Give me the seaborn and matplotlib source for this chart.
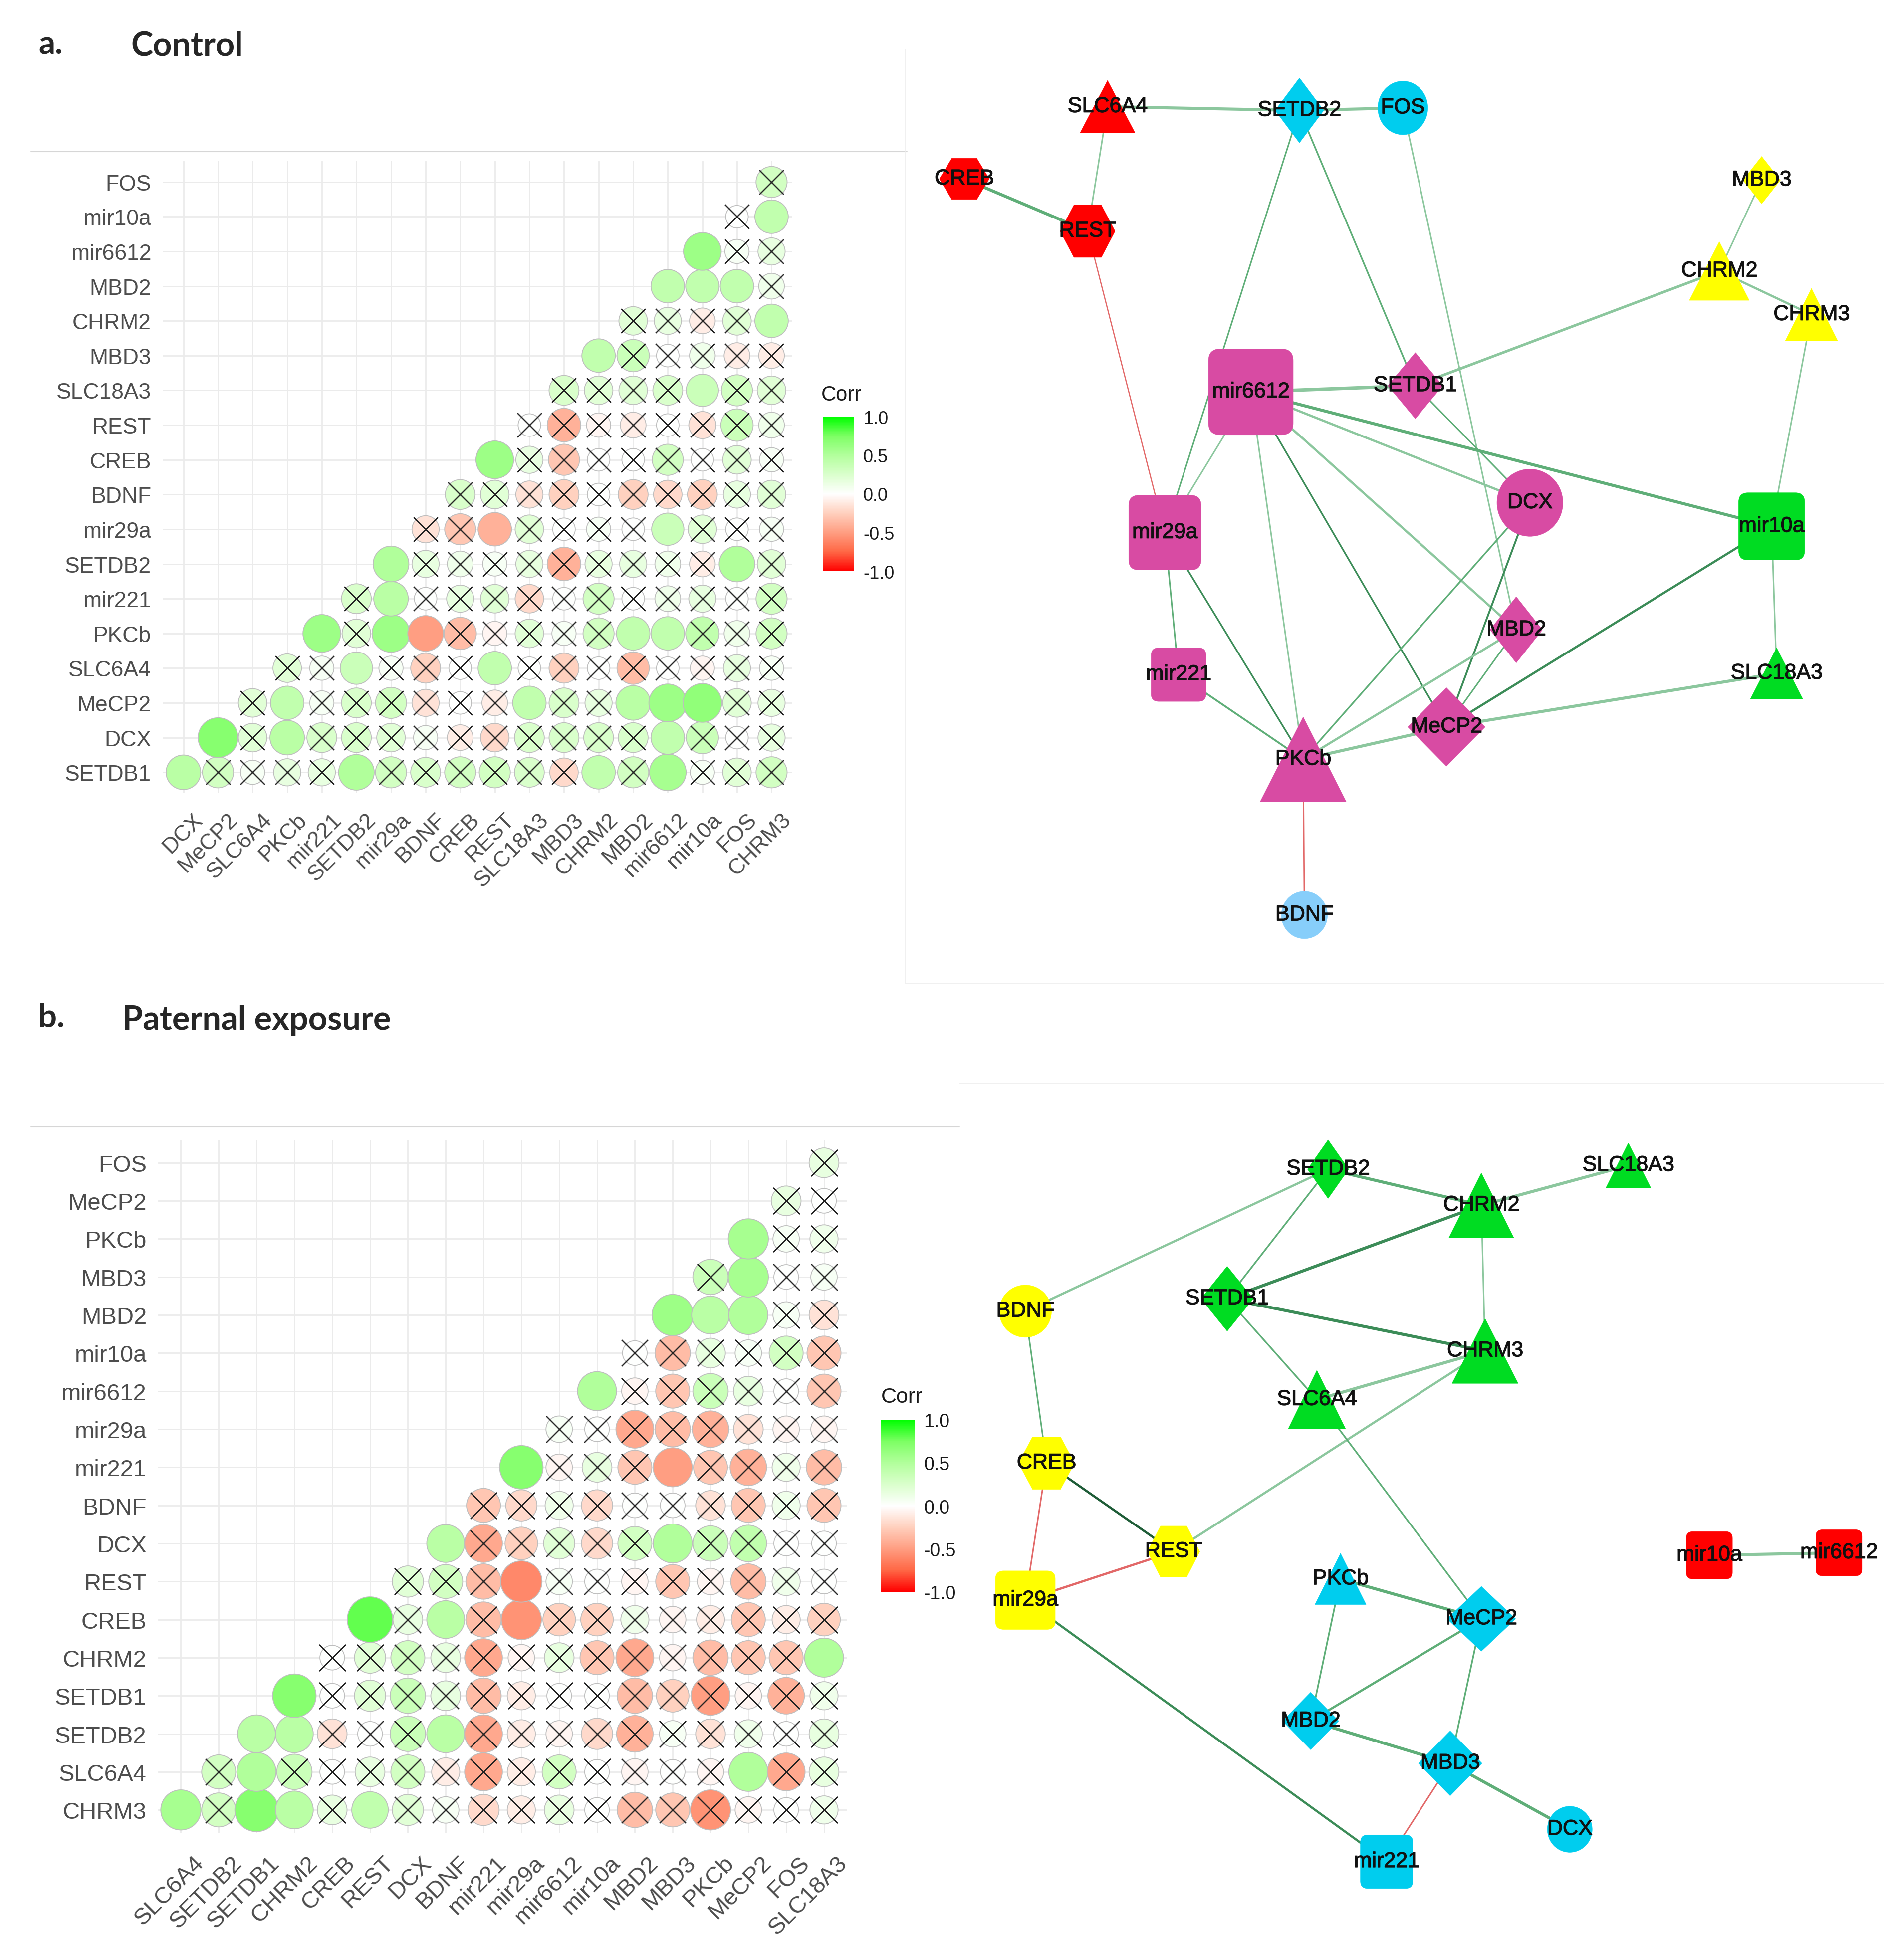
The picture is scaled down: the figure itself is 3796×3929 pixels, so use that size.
import numpy as np
import pandas as pd
import matplotlib
matplotlib.use("Agg")
import matplotlib.pyplot as plt
import matplotlib.transforms as mtransforms
import matplotlib.patheffects as pe
from matplotlib.colors import LinearSegmentedColormap, Normalize
from matplotlib.patches import Polygon, Ellipse, FancyBboxPatch
import seaborn as sns

# ---------------- data: a. Control ----------------
ctrl_vars = ["SETDB1", "DCX", "MeCP2", "SLC6A4", "PKCb", "mir221", "SETDB2", "mir29a", "BDNF",
             "CREB", "REST", "SLC18A3", "MBD3", "CHRM2", "MBD2", "mir6612", "mir10a", "FOS", "CHRM3"]
# row i: r of ctrl_vars[i] with ctrl_vars[i+1:]
ctrl_r = [
    [0.45, 0.30, 0.05, 0.15, 0.15, 0.50, 0.30, 0.25, 0.30, 0.30, 0.25, -0.20, 0.40, 0.30, 0.55, 0.05, 0.20, 0.30],
    [0.70, 0.20, 0.45, 0.25, 0.25, 0.20, 0.05, -0.10, -0.20, 0.25, 0.25, 0.25, 0.25, 0.40, 0.35, 0.00, 0.15],
    [0.20, 0.40, 0.05, 0.25, 0.30, -0.15, 0.00, -0.10, 0.40, 0.25, 0.15, 0.45, 0.60, 0.65, 0.20, 0.15],
    [0.20, 0.05, 0.35, 0.05, -0.25, 0.00, 0.40, 0.00, -0.25, 0.00, -0.35, 0.00, -0.05, 0.15, 0.05],
    [0.60, 0.20, 0.60, -0.50, -0.35, -0.05, 0.20, 0.05, 0.30, 0.40, 0.40, 0.40, 0.10, 0.30],
    [0.25, 0.45, 0.00, 0.15, 0.20, -0.20, 0.00, 0.30, 0.00, 0.10, 0.15, 0.00, 0.30],
    [0.50, 0.15, 0.10, 0.05, 0.15, -0.40, 0.15, 0.15, 0.10, -0.10, 0.50, 0.20],
    [-0.15, -0.30, -0.40, 0.20, 0.00, 0.05, 0.00, 0.35, 0.20, 0.00, 0.05],
    [0.25, 0.20, -0.15, -0.25, 0.00, -0.25, -0.20, -0.25, 0.15, 0.20],
    [0.60, 0.15, -0.30, 0.00, 0.00, 0.30, 0.00, 0.20, 0.05],
    [0.00, -0.40, -0.05, -0.10, 0.00, -0.15, 0.35, 0.10],
    [0.25, 0.20, 0.20, 0.25, 0.35, 0.30, 0.20],
    [0.40, 0.35, 0.00, 0.10, -0.10, -0.10],
    [0.20, 0.15, -0.10, 0.20, 0.40],
    [0.40, 0.40, 0.40, 0.10],
    [0.60, 0.05, 0.15],
    [0.00, 0.40],
    [0.30],
]
# o = significant, x = crossed out
ctrl_sig = ["oxxxxoxxxxxxoxoxxx", "oxoxxxxxxxxxxoxxx", "xoxxxxxxoxxoooxx", "xxoxxxoxxxxxxxx",
            "oxooxxxxxooxxx", "xoxxxxxxxxxxx", "oxxxxxxxxxox", "xxoxxxxoxxx", "xxxxxxxxxx",
            "oxxxxxxxx", "xxxxxxxx", "xxxxoxx", "oxxxxx", "xxxxo", "ooox", "oxx", "xo", "x"]

# ---------------- data: b. Paternal exposure ----------------
pat_vars = ["CHRM3", "SLC6A4", "SETDB2", "SETDB1", "CHRM2", "CREB", "REST", "DCX", "BDNF", "mir221",
            "mir29a", "mir6612", "mir10a", "MBD2", "MBD3", "PKCb", "MeCP2", "FOS", "SLC18A3"]
pat_r = [
    [0.55, 0.30, 0.70, 0.45, 0.15, 0.40, 0.20, 0.05, -0.20, -0.10, 0.15, 0.00, -0.35, -0.30, -0.55, -0.05, 0.00, 0.10],
    [0.30, 0.50, 0.35, 0.00, 0.15, 0.30, -0.10, -0.45, -0.10, 0.30, 0.00, -0.05, 0.00, -0.05, 0.50, -0.45, 0.15],
    [0.45, 0.45, -0.15, 0.00, 0.35, 0.45, -0.45, -0.10, -0.05, -0.20, -0.40, 0.05, -0.15, 0.10, 0.00, 0.15],
    [0.70, 0.00, 0.20, 0.35, 0.15, -0.35, -0.10, 0.00, 0.00, -0.35, -0.25, -0.50, -0.05, -0.40, 0.10],
    [0.00, 0.20, 0.30, 0.15, -0.45, -0.05, 0.15, -0.30, -0.45, -0.05, -0.35, -0.30, -0.30, 0.50],
    [0.80, 0.15, 0.45, -0.35, -0.55, -0.25, -0.25, 0.10, -0.05, -0.10, -0.30, -0.10, -0.25],
    [0.20, 0.30, -0.35, -0.60, 0.05, 0.00, -0.05, -0.30, -0.05, -0.35, 0.10, 0.00],
    [0.45, -0.45, -0.25, 0.20, -0.20, 0.30, 0.50, 0.35, 0.40, 0.00, 0.00],
    [-0.30, -0.20, 0.10, -0.20, 0.00, 0.00, -0.15, -0.30, 0.10, -0.30],
    [0.70, -0.05, 0.15, -0.30, -0.50, -0.30, -0.40, 0.10, -0.35],
    [0.05, 0.00, -0.45, -0.35, -0.40, -0.15, -0.05, -0.05],
    [0.50, -0.05, -0.30, 0.35, 0.15, 0.00, -0.30],
    [0.00, -0.35, 0.15, 0.05, 0.30, -0.30],
    [0.60, 0.45, 0.50, 0.05, -0.15],
    [0.35, 0.55, 0.00, 0.05],
    [0.55, 0.05, 0.10],
    [0.15, 0.00],
    [0.15],
]
pat_sig = ["oxooxoxxxxxxxxxxxx", "xoxxxxxxxxxxxxoxx", "ooxxxoxxxxxxxxxx", "oxxxxxxxxxxxxxx",
           "xxxxxxxxxxxxxo", "oxoxoxxxxxxxx", "xxxoxxxxxxxx", "oxxxxxoxxxx", "xxxxxxxxxx",
           "oxxxoxxxx", "xxxxxxxx", "oxxxxxx", "xxxxxx", "oooxx", "xoxx", "oxx", "xx", "x"]

legend_ticks = [-1.0, -0.5, 0.0, 0.5, 1.0]
legend_labels = ["-1.0", "-0.5", "0.0", "0.5", "1.0"]

# ---------------- data: networks ----------------
top_nodes = ["SLC6A4", "SETDB2", "FOS", "CREB", "REST", "MBD3", "CHRM2", "CHRM3", "mir6612", "SETDB1",
             "DCX", "mir10a", "mir29a", "MBD2", "mir221", "SLC18A3", "MeCP2", "PKCb", "BDNF"]
top_group = ["red", "cyan", "cyan", "red", "red", "yellow", "yellow", "yellow", "mag", "mag",
             "mag", "green", "mag", "mag", "mag", "green", "mag", "mag", "lblue"]
top_shape = ["tri", "dia", "ell", "hex", "hex", "dia", "tri", "tri", "rsq", "dia",
             "ell", "rsq", "rsq", "dia", "rsq", "tri", "dia", "tri", "ell"]
top_edges = [("SLC6A4", "SETDB2"), ("SETDB2", "FOS"), ("SLC6A4", "REST"), ("CREB", "REST"),
             ("REST", "mir29a"), ("SETDB2", "mir29a"), ("SETDB2", "SETDB1"), ("FOS", "MBD2"),
             ("MBD3", "CHRM2"), ("CHRM2", "CHRM3"), ("CHRM2", "SETDB1"), ("CHRM3", "mir10a"),
             ("mir6612", "SETDB1"), ("mir6612", "mir10a"), ("mir6612", "DCX"), ("mir6612", "MBD2"),
             ("mir6612", "MeCP2"), ("mir6612", "PKCb"), ("mir6612", "mir29a"), ("mir29a", "mir221"),
             ("mir29a", "PKCb"), ("mir221", "PKCb"), ("SETDB1", "DCX"), ("DCX", "PKCb"),
             ("DCX", "MeCP2"), ("MBD2", "PKCb"), ("MBD2", "MeCP2"), ("mir10a", "MeCP2"),
             ("mir10a", "SLC18A3"), ("SLC18A3", "MeCP2"), ("PKCb", "MeCP2"), ("PKCb", "BDNF")]

bot_nodes = ["SETDB2", "SLC18A3", "CHRM2", "BDNF", "SETDB1", "CHRM3", "SLC6A4", "CREB", "REST",
             "mir29a", "PKCb", "MeCP2", "mir10a", "mir6612", "MBD2", "MBD3", "DCX", "mir221"]
bot_group = ["green", "green", "green", "yellow", "green", "green", "green", "yellow", "yellow",
             "yellow", "cyan", "cyan", "red", "red", "cyan", "cyan", "cyan", "cyan"]
bot_shape = ["dia", "tri", "tri", "ell", "dia", "tri", "tri", "hex", "hex",
             "rsq", "tri", "dia", "rsq", "rsq", "dia", "dia", "ell", "rsq"]
bot_edges = [("BDNF", "SETDB2"), ("SETDB2", "CHRM2"), ("SETDB2", "SETDB1"), ("CHRM2", "SLC18A3"),
             ("CHRM2", "SETDB1"), ("CHRM2", "CHRM3"), ("SETDB1", "CHRM3"), ("SETDB1", "SLC6A4"),
             ("SLC6A4", "CHRM3"), ("CHRM3", "REST"), ("SLC6A4", "MeCP2"), ("BDNF", "CREB"),
             ("CREB", "REST"), ("CREB", "mir29a"), ("mir29a", "REST"), ("mir29a", "mir221"),
             ("PKCb", "MeCP2"), ("PKCb", "MBD2"), ("MeCP2", "MBD2"), ("MeCP2", "MBD3"),
             ("MBD2", "MBD3"), ("MBD3", "DCX"), ("MBD3", "mir221"), ("mir10a", "mir6612")]

# ---------------- layout / style (canvas units = reference px / 2.497) ----------------
top_x = [889, 1043, 1126, 774, 873, 1414, 1380, 1454, 1004, 1136, 1228, 1422, 935, 1217, 946, 1426, 1161, 1046, 1047]
top_y = [86, 89, 87, 144, 186, 145, 218, 253, 315, 310, 404, 423, 428, 506, 542, 541, 584, 610, 735]
top_w = [44, 39, 40, 40, 44, 30, 48, 42, 68, 44, 53, 53, 58, 42, 44, 42, 62, 69, 37]
top_h = [42, 52, 43, 33, 42, 38, 47, 42, 69, 53, 54, 54, 60, 53, 43, 41, 63, 68, 38]
top_ew = [4.0, 4.0, 2.0, 4.0, 1.6, 2.0, 2.2, 2.0, 2.0, 3.0, 3.5, 2.0, 4.5, 4.0, 3.0, 3.0,
          2.2, 2.0, 2.0, 2.0, 2.2, 2.5, 2.0, 2.2, 2.5, 3.0, 2.0, 3.0, 2.0, 4.0, 4.0, 1.8]
top_ec = ["light", "light", "light", "mid", "red", "mid", "mid", "light", "light", "light", "light", "light",
          "light", "mid", "light", "light", "dark", "light", "light", "mid", "dark", "mid", "mid", "mid",
          "dark", "light", "mid", "dark", "light", "light", "light", "red"]

bot_x = [1066, 1307, 1189, 823, 985, 1192, 1057, 840, 942, 823, 1076, 1189, 1372, 1476, 1052, 1164, 1260, 1113]
bot_y = [939, 936, 968, 1053, 1043, 1085, 1124, 1175, 1246, 1285, 1268, 1300, 1249, 1247, 1382, 1416, 1469, 1495]
bot_w = [33, 36, 52, 42, 42, 53, 46, 45, 42, 48, 41, 55, 37, 37, 45, 51, 36, 42]
bot_h = [47, 36, 52, 42, 52, 52, 47, 42, 41, 47, 41, 52, 38, 37, 46, 52, 37, 43]
bot_ew = [3.0, 4.0, 2.2, 4.0, 4.0, 2.0, 4.0, 2.2, 4.0, 3.0, 2.2, 2.0,
          3.0, 2.0, 3.0, 3.0, 4.0, 2.2, 3.0, 2.2, 4.0, 4.0, 2.0, 4.0]
bot_ec = ["light", "mid", "mid", "light", "dark", "light", "dark", "mid", "light", "light", "mid", "mid",
          "vdark", "red", "red", "dark", "mid", "mid", "mid", "mid", "mid", "mid", "red", "light"]

NODE_COL = {"red": "#FF0000", "cyan": "#00CDEE", "yellow": "#FFFF00", "mag": "#D84BA3",
            "green": "#00DC22", "lblue": "#87CEFA"}
EDGE_COL = {"light": "#8CC79E", "mid": "#5FAE78", "dark": "#3C8C58", "vdark": "#1E5C37", "red": "#E26868"}

W, H, DPI = 3796, 3930, 100
SC = 2.497

sns.set_theme(style="white")
plt.rcParams["font.family"] = ["Liberation Sans", "DejaVu Sans"]
plt.rcParams["axes.unicode_minus"] = False

corr_cmap = LinearSegmentedColormap.from_list(
    "rwg", ["#FF0000", "#FF6846", "#FF9E82", "#FFD0BE", "#FFFFFF", "#DAFFCC", "#B2FF9C", "#7DFF64", "#00FF00"])

fig = plt.figure(figsize=(W / DPI, H / DPI), dpi=DPI)


def px_axes(l, t, r, b, **kw):
    return fig.add_axes([l / W, 1 - b / H, (r - l) / W, (b - t) / H], **kw)


# canvas for titles, borders and networks
canvas = px_axes(0, 0, W, H, zorder=0)
canvas.set_xlim(0, W / SC)
canvas.set_ylim(H / SC, 0)
canvas.axis("off")


def corr_panel(box, names, rvals, sigs, cell_px, tick_fs, dx_px, pad_px):
    ax = px_axes(*box, zorder=2)
    recs = []
    for i, (rr, ss) in enumerate(zip(rvals, sigs)):
        for k, (r, s) in enumerate(zip(rr, ss)):
            recs.append({"col": i + k, "row": i, "r": r, "absr": abs(r), "ns": s == "x"})
    df = pd.DataFrame(recs)
    cell_pt = cell_px / DPI * 72
    sns.scatterplot(data=df, x="col", y="row", hue="r", size="absr", palette=corr_cmap,
                    hue_norm=(-1, 1), sizes=((0.65 * cell_pt) ** 2, (1.3 * cell_pt) ** 2),
                    size_norm=(0, 1), edgecolor="#BEBEBE", linewidth=1.3, legend=False, ax=ax, zorder=3)
    sns.scatterplot(data=df[df["ns"]], x="col", y="row", marker="x", color="#222222",
                    s=(0.7 * cell_pt) ** 2, linewidth=1.9, legend=False, ax=ax, zorder=4)
    n = len(names) - 1
    ax.set_xlim(-0.6, n - 0.4)
    ax.set_ylim(-0.6, n - 0.4)
    ax.set_xticks(range(n))
    ax.set_xticklabels(names[1:])
    ax.set_yticks(range(n))
    ax.set_yticklabels(names[:-1])
    ax.set_xlabel("")
    ax.set_ylabel("")
    ax.grid(True, color="#EBEBEB", linewidth=2.0)
    ax.set_axisbelow(True)
    for s in ax.spines.values():
        s.set_visible(False)
    ax.tick_params(length=0, labelsize=tick_fs, labelcolor="#4D4D4D")
    ax.tick_params(axis="y", pad=23 / DPI * 72)
    ax.tick_params(axis="x", pad=pad_px / DPI * 72)
    off = mtransforms.ScaledTranslation(dx_px / DPI, 0, fig.dpi_scale_trans)
    for lab in ax.get_xticklabels():
        lab.set_rotation(45)
        lab.set_ha("right")
        lab.set_va("top")
        lab.set_rotation_mode("anchor")
        lab.set_transform(lab.get_transform() + off)
    return ax


def corr_legend(bar_box, title_xy, title_fs, lab_fs):
    cax = px_axes(*bar_box, zorder=2)
    sm = plt.cm.ScalarMappable(norm=Normalize(-1, 1), cmap=corr_cmap)
    cb = fig.colorbar(sm, cax=cax, ticks=legend_ticks)
    cb.ax.set_yticklabels(legend_labels)
    cb.outline.set_visible(False)
    cb.ax.tick_params(direction="in", left=True, right=True, color="white", length=9, width=1.5,
                      labelsize=lab_fs, labelcolor="#1A1A1A", pad=13)
    canvas.text(title_xy[0] / SC, title_xy[1] / SC, "Corr", fontsize=title_fs, color="#1A1A1A",
                ha="left", va="center")


corr_panel((326, 324, 1588, 1591), ctrl_vars, ctrl_r, ctrl_sig, 69.5, 32, 18, 32)
corr_legend((1649, 836, 1712, 1146), (1646, 792), 30, 26)
corr_panel((317, 2286, 1697, 3675), pat_vars, pat_r, pat_sig, 76.0, 34, 24, 38)
corr_legend((1766, 2847, 1833, 3192), (1766, 2801), 31, 27)

label_fx = [pe.withStroke(linewidth=0.9, foreground="#111111")]


def draw_network(names, groups, shapes, xs, ys, ws, hs, edges, ews, ecs):
    pos = {n: (x, y) for n, x, y in zip(names, xs, ys)}
    for (a, b), lw, ec in zip(edges, ews, ecs):
        canvas.plot([pos[a][0], pos[b][0]], [pos[a][1], pos[b][1]], color=EDGE_COL[ec], lw=lw * 1.1,
                    solid_capstyle="butt", zorder=1)
    for n, g, sh, x, y, w, h in zip(names, groups, shapes, xs, ys, ws, hs):
        col = NODE_COL[g]
        if sh == "tri":
            p = Polygon([(x - w / 2, y + h / 2), (x + w / 2, y + h / 2), (x, y - h / 2)], closed=True)
        elif sh == "dia":
            p = Polygon([(x, y - h / 2), (x + w / 2, y), (x, y + h / 2), (x - w / 2, y)], closed=True)
        elif sh == "hex":
            p = Polygon([(x - w / 2, y), (x - w / 4, y - h / 2), (x + w / 4, y - h / 2), (x + w / 2, y),
                         (x + w / 4, y + h / 2), (x - w / 4, y + h / 2)], closed=True)
        elif sh == "ell":
            p = Ellipse((x, y), w, h)
        else:
            rr = min(w, h) * 0.14
            p = FancyBboxPatch((x - w / 2 + rr, y - h / 2 + rr), w - 2 * rr, h - 2 * rr,
                               boxstyle=f"round,pad={rr}")
        p.set_facecolor(col)
        p.set_edgecolor(col)
        p.set_linewidth(0.5)
        p.set_zorder(2)
        canvas.add_patch(p)
        canvas.text(x, y, n, fontsize=31, color="#111111", ha="center", va="center", zorder=3,
                    path_effects=label_fx)


draw_network(top_nodes, top_group, top_shape, top_x, top_y, top_w, top_h, top_edges, top_ew, top_ec)
draw_network(bot_nodes, bot_group, bot_shape, bot_x, bot_y, bot_w, bot_h, bot_edges, bot_ew, bot_ec)

# panel titles and image borders
title_font = ["Lato", "DejaVu Sans"]
canvas.text(31, 36, "a.", fontsize=47, fontweight="bold", family=title_font, ha="left", va="center")
canvas.text(105, 37, "Control", fontsize=48, fontweight="bold", family=title_font, ha="left", va="center")
canvas.text(31, 817, "b.", fontsize=47, fontweight="bold", family=title_font, ha="left", va="center")
canvas.text(98, 819, "Paternal exposure", fontsize=48, fontweight="bold", family=title_font,
            ha="left", va="center")
canvas.plot([25, 728], [122, 122], color="#D6D6D6", lw=1.5, zorder=0)
canvas.plot([25, 770], [905, 905], color="#D6D6D6", lw=1.5, zorder=0)
canvas.plot([727, 727, 1512], [40, 790, 790], color="#EEEEEE", lw=1.2, zorder=0)
canvas.plot([770, 1512], [870, 870], color="#EEEEEE", lw=1.2, zorder=0)

fig.savefig("out.png", dpi=DPI)
